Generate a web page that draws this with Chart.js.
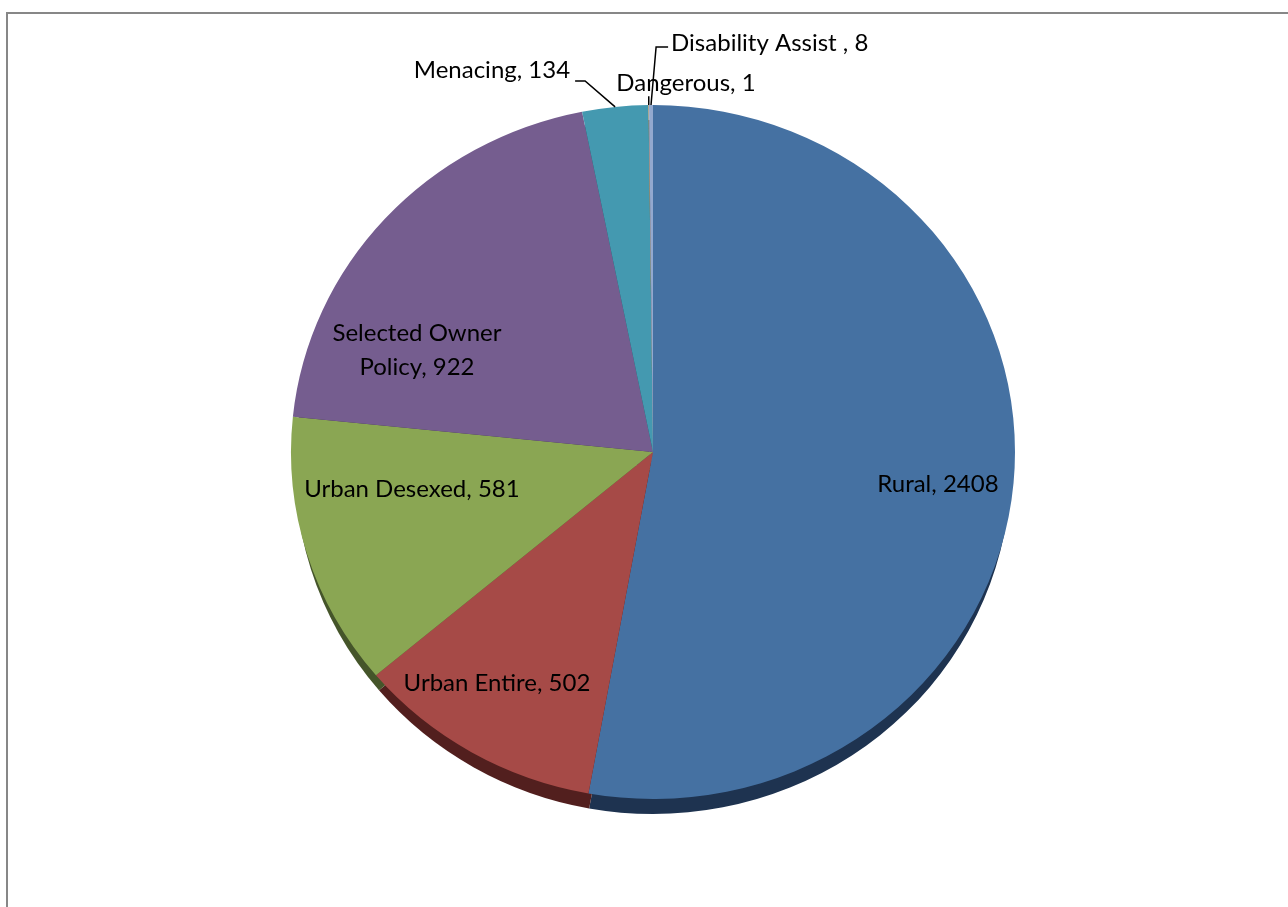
<!DOCTYPE html>
<html><head><meta charset="utf-8">
<script src="https://cdn.jsdelivr.net/npm/chart.js@4"></script>
<style>html,body{margin:0;padding:0;background:#fff;overflow:hidden}</style>
</head><body>
<canvas id="c" width="1288" height="907"></canvas>
<script>
// ---- data ----
const categories = ['Rural','Urban Entire','Urban Desexed','Selected Owner Policy','Menacing','Dangerous','Disability Assist '];
const counts = [2408, 502, 581, 922, 134, 1, 8];

// ---- styles ----
const sliceColors = ['#4571A2','#A64A47','#8AA653','#755D8F','#4499B0','#D9843D','#93A9CF'];
const sideColors  = ['#1E3350','#521F1E','#45552A','#3B2E4B','#21505C','#6A3F1C','#4A5670'];
// label placement in units of the radius, relative to the pie centre
const labelLayout = [
  {ux: 0.787, uy: 0.092, align: 'center'},
  {ux:-0.431, uy: 0.666, align: 'center'},
  {ux:-0.666, uy: 0.107, align: 'center'},
  {ux:-0.652, uy:-0.294, align: 'center', wrap: 2},
  {ux:-0.229, uy:-1.101, align: 'right',  leader: 'right'},
  {ux: 0.091, uy:-1.063, align: 'center', leader: 'below'},
  {ux: 0.050, uy:-1.179, align: 'left',   leader: 'left'}
];
const SY = 347/362;   // vertical squash of the tilted pie
const DEPTH = 15;     // thickness of the 3D rim
const SIDE_INSET = 4; // rim is narrower at the sides (perspective)
const FONT = '24px Lato, "Open Sans", sans-serif';

const frame = {
  id: 'frame',
  beforeDraw(chart){
    const ctx = chart.ctx;
    ctx.save();
    ctx.strokeStyle = '#878787'; ctx.lineWidth = 2;
    ctx.strokeRect(7, 13, 1400, 1000);
    ctx.restore();
  }
};

const pie3d = {
  id: 'pie3d',
  beforeDatasetsDraw(chart){
    const ctx = chart.ctx, arcs = chart.getDatasetMeta(0).data;
    const cx = arcs[0].x, cy = arcs[0].y;
    ctx.save();
    ctx.translate(cx, cy); ctx.scale(1, SY); ctx.translate(-cx, -cy);
    const d = DEPTH / SY;
    arcs.forEach((a, i) => {
      ctx.beginPath();
      ctx.moveTo(cx, cy + d);
      ctx.ellipse(cx, cy + d, a.outerRadius - SIDE_INSET, a.outerRadius, 0, a.startAngle, a.endAngle);
      ctx.closePath();
      ctx.fillStyle = sideColors[i];
      ctx.fill();
    });
  },
  afterDatasetsDraw(chart){ chart.ctx.restore(); }
};

const labels = {
  id: 'labels',
  afterDraw(chart){
    const ctx = chart.ctx, arcs = chart.getDatasetMeta(0).data;
    const cx = arcs[0].x, cy = arcs[0].y, R = arcs[0].outerRadius;
    ctx.save();
    ctx.font = FONT; ctx.fillStyle = '#000'; ctx.textBaseline = 'middle';
    ctx.strokeStyle = '#000'; ctx.lineWidth = 1.5;
    categories.forEach((cat, i) => {
      const L = labelLayout[i];
      let text = cat + ', ' + counts[i];
      let lines = [text];
      if (L.wrap) {
        const w = text.split(' ');
        lines = [w.slice(0, L.wrap).join(' '), w.slice(L.wrap).join(' ')];
      }
      const tx = cx + L.ux * R, ty = cy + L.uy * R * SY;
      ctx.textAlign = L.align;
      const lh = 34;
      lines.forEach((ln, k) => ctx.fillText(ln, tx, ty + (k - (lines.length - 1) / 2) * lh));
      if (L.leader) {
        const a = arcs[i], mid = (a.startAngle + a.endAngle) / 2;
        const ex = cx + R * Math.cos(mid), ey = cy + R * SY * Math.sin(mid);
        ctx.beginPath();
        if (L.leader === 'right') {
          ctx.moveTo(tx + 5, ty + 11); ctx.lineTo(tx + 15, ty + 11); ctx.lineTo(ex, ey);
        } else if (L.leader === 'left') {
          ctx.moveTo(tx - 3, ty + 4); ctx.lineTo(tx - 15, ty + 4); ctx.lineTo(ex, ey);
        } else {
          ctx.moveTo(ex, ty + 13); ctx.lineTo(ex, ey);
        }
        ctx.stroke();
      }
    });
    ctx.restore();
  }
};

new Chart(document.getElementById('c'), {
  type: 'pie',
  data: {
    labels: categories,
    datasets: [{ data: counts, backgroundColor: sliceColors, borderWidth: 0 }]
  },
  options: {
    responsive: false,
    animation: false,
    devicePixelRatio: 1,
    layout: { padding: { left: 291, right: 273, top: 90, bottom: 93 } },
    plugins: { legend: { display: false }, tooltip: { enabled: false } }
  },
  plugins: [frame, pie3d, labels]
});
</script>
</body></html>
